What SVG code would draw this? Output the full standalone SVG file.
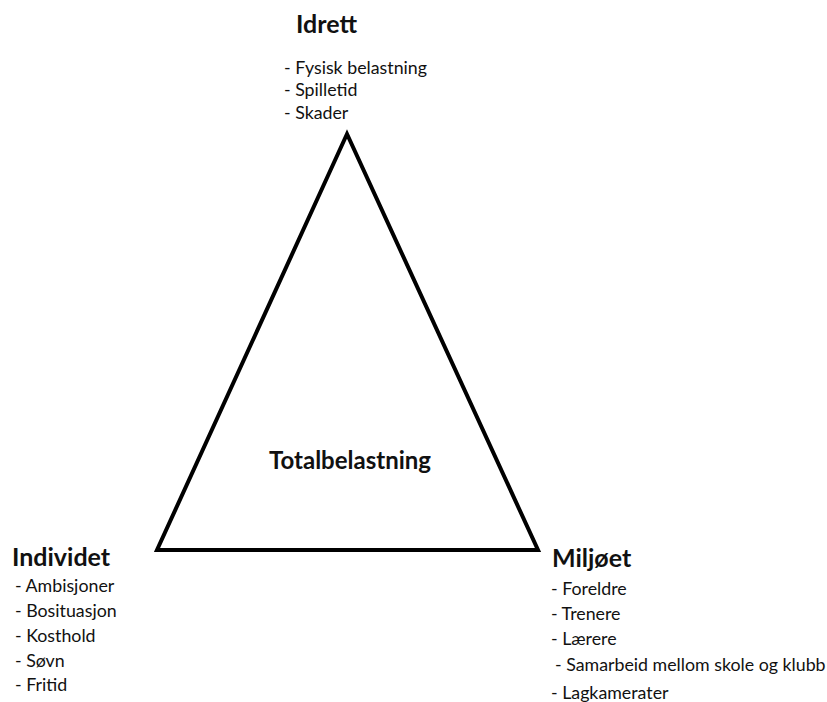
<svg xmlns="http://www.w3.org/2000/svg" width="827" height="702" viewBox="0 0 827 702">
<style>
text{font-family:Lato,"Open Sans",sans-serif;fill:#111}
.h{font-size:25px;font-weight:bold}
.i{font-size:17.8px}
.c{font-size:24px;font-weight:bold}
</style>
<rect width="827" height="702" fill="#fff"/>
<g id="triangle">
<polygon points="347,134 157,550 538,550" fill="none" stroke="#000" stroke-width="4" stroke-linejoin="miter"/>
<text class="c" x="350" y="469" text-anchor="middle">Totalbelastning</text>
</g>
<g id="idrett">
<text class="h" x="296" y="33">Idrett</text>
<text class="i" x="284" y="74">- Fysisk belastning</text>
<text class="i" x="284" y="96">- Spilletid</text>
<text class="i" x="284" y="119">- Skader</text>
</g>
<g id="individet">
<text class="h" x="12" y="566">Individet</text>
<text class="i" x="15" y="592">- Ambisjoner</text>
<text class="i" x="15" y="617">- Bosituasjon</text>
<text class="i" x="15" y="642">- Kosthold</text>
<text class="i" x="15" y="667">- Søvn</text>
<text class="i" x="15" y="691">- Fritid</text>
</g>
<g id="miljoet">
<text class="h" x="552" y="567">Miljøet</text>
<text class="i" x="551" y="595">- Foreldre</text>
<text class="i" x="551" y="620">- Trenere</text>
<text class="i" x="551" y="645">- Lærere</text>
<text class="i" x="555" y="671">- Samarbeid mellom skole og klubb</text>
<text class="i" x="551" y="699">- Lagkamerater</text>
</g>
<g id="connectors"></g>
</svg>
